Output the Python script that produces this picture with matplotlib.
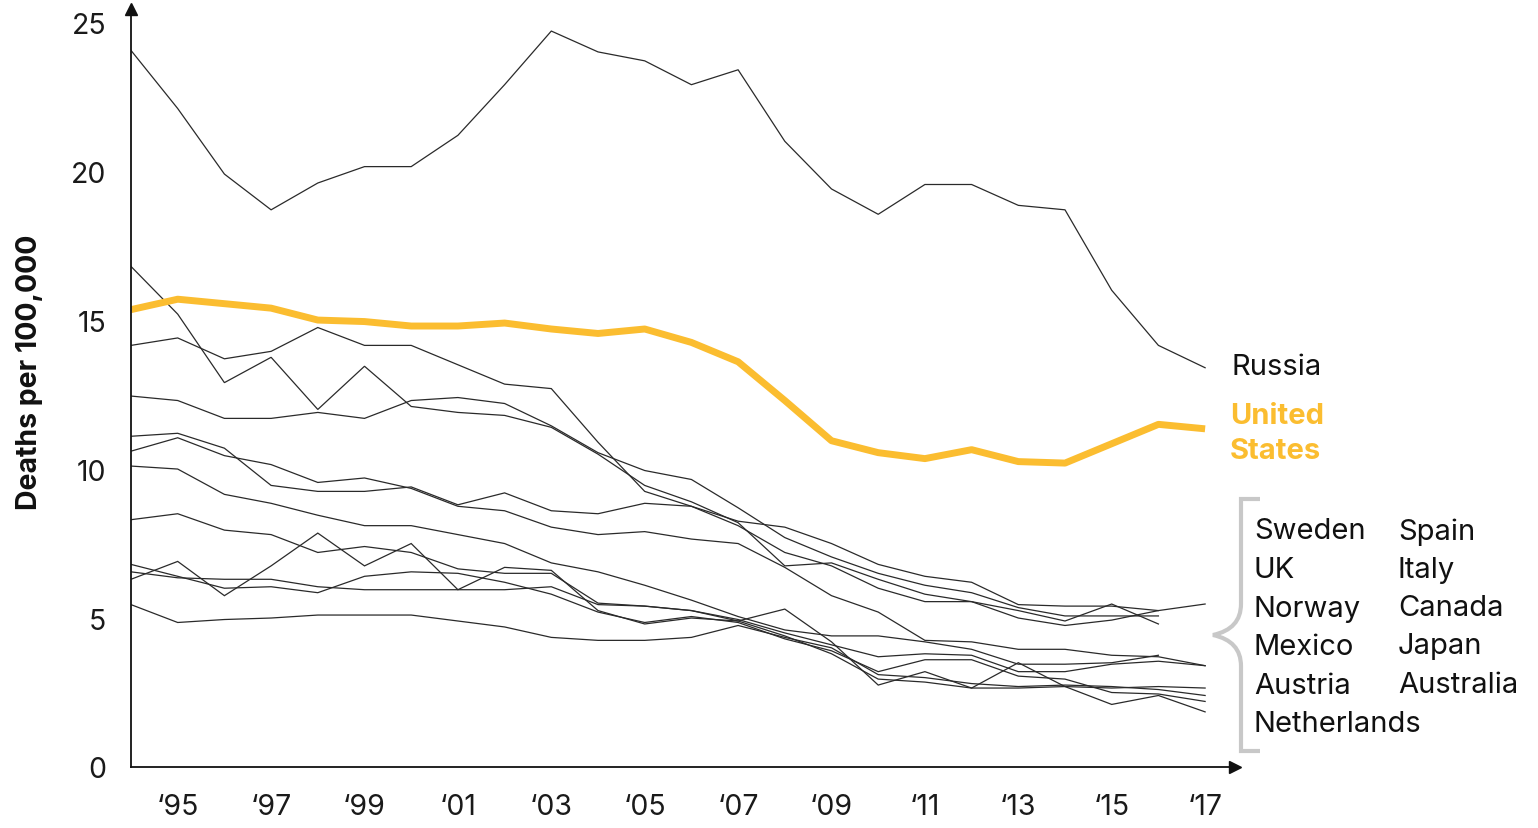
import numpy as np
import matplotlib
matplotlib.use("Agg")
import matplotlib.pyplot as plt
from matplotlib.path import Path
from matplotlib.patches import PathPatch

plt.rcParams['font.family'] = ['Inter', 'DejaVu Sans']

years = list(range(1994, 2018))
nan = np.nan

russia = [24.05, 22.1, 19.9, 18.7, 19.6, 20.15, 20.15, 21.2, 22.9, 24.7, 24.0, 23.7,
          22.9, 23.4, 21.0, 19.4, 18.55, 19.55, 19.55, 18.85, 18.7, 16.0, 14.15, 13.4]
united_states = [15.35, 15.7, 15.55, 15.4, 15.0, 14.95, 14.8, 14.8, 14.9, 14.7, 14.55, 14.7,
                 14.25, 13.6, 12.3, 10.95, 10.55, 10.35, 10.65, 10.25, 10.2, 10.85, 11.5, 11.35]

# the other eleven countries, drawn alike (which line is which is not marked)
other_a = [16.8, 15.2, 12.9, 13.75, 12.0, 13.45, 12.1, 11.9, 11.8, 11.4, 10.5, 9.45,
           8.9, 8.2, 6.75, 6.85, 6.3, 5.8, 5.55, 5.0, 4.75, 4.93, 5.25, 5.47]
other_b = [14.15, 14.4, 13.7, 13.95, 14.75, 14.15, 14.15, 13.5, 12.85, 12.7, 10.9, 9.25,
           8.75, 8.25, 8.05, 7.5, 6.8, 6.4, 6.2, 5.45, 5.4, 5.4, 5.25, nan]
other_c = [12.45, 12.3, 11.7, 11.7, 11.9, 11.7, 12.3, 12.4, 12.2, 11.45, 10.55, 9.95,
           9.65, 8.7, 7.7, 7.05, 6.5, 6.1, 5.85, 5.35, 5.07, 5.07, 5.07, nan]
other_d = [11.1, 11.2, 10.7, 9.45, 9.25, 9.25, 9.4, 8.8, 9.2, 8.6, 8.5, 8.85,
           8.75, 8.1, 7.2, 6.75, 6.0, 5.55, 5.55, 5.25, 4.9, 5.47, 4.8, nan]
other_e = [10.6, 11.05, 10.45, 10.15, 9.55, 9.7, 9.35, 8.75, 8.6, 8.05, 7.8, 7.9,
           7.65, 7.5, 6.7, 5.75, 5.2, 4.25, 4.2, 3.95, 3.95, 3.75, 3.7, 3.4]
other_f = [10.1, 10.0, 9.15, 8.85, 8.45, 8.1, 8.1, 7.8, 7.5, 6.85, 6.55, 6.1,
           5.6, 5.05, 4.6, 4.4, 4.4, 4.2, 3.95, 3.45, 3.45, 3.5, 3.75, nan]
other_g = [8.3, 8.5, 7.95, 7.8, 7.2, 7.4, 7.2, 6.65, 6.5, 6.5, 5.5, 5.4,
           5.25, 4.95, 4.5, 4.1, 3.7, 3.8, 3.75, 3.2, 3.2, 3.45, 3.55, 3.4]
other_h = [6.8, 6.4, 6.0, 6.05, 5.85, 6.4, 6.55, 6.5, 6.2, 5.8, 5.2, 4.85,
           5.05, 4.85, 4.3, 3.9, 3.2, 3.6, 3.6, 3.05, 2.95, 2.5, 2.45, 2.2]
other_i = [6.55, 6.35, 6.3, 6.3, 6.05, 5.95, 5.95, 5.95, 5.95, 6.05, 5.45, 5.4,
           5.25, 4.9, 4.4, 3.8, 2.95, 2.85, 2.65, 2.65, 2.7, 2.65, 2.7, 2.65]
other_j = [6.3, 6.9, 5.75, 6.75, 7.85, 6.75, 7.5, 5.95, 6.7, 6.6, 5.25, 4.8,
           5.0, 4.9, 5.3, 4.2, 2.75, 3.2, 2.65, 3.5, 2.7, 2.1, 2.4, 1.85]
other_k = [5.45, 4.85, 4.95, 5.0, 5.1, 5.1, 5.1, 4.9, 4.7, 4.35, 4.25, 4.25,
           4.35, 4.75, 4.35, 4.0, 3.1, 3.0, 2.8, 2.7, 2.75, 2.7, 2.6, 2.4]

others = [other_a, other_b, other_c, other_d, other_e, other_f,
          other_g, other_h, other_i, other_j, other_k]

tick_years = list(range(1995, 2018, 2))
tick_labels = ["\u2018" + str(y)[2:] for y in tick_years]
y_ticks = [0, 5, 10, 15, 20, 25]

group_left = ["Sweden", "UK", "Norway", "Mexico", "Austria", "Netherlands"]
group_right = ["Spain", "Italy", "Canada", "Japan", "Australia"]

W, H = 1538, 829
fig = plt.figure(figsize=(W / 100, H / 100), dpi=100)


def fx(px):
    return px / W


def fy(py):
    return 1 - py / H


ax = fig.add_axes([fx(131), fy(768), (1235 - 131) / W, (768 - 10) / H])
ax.set_xlim(1994, 2017.64)
ax.set_ylim(0, 25.44)

for s in others:
    ax.plot(years, s, color="#2a2a2a", lw=0.9, solid_joinstyle="miter")
ax.plot(years, russia, color="#2a2a2a", lw=0.9)
ax.plot(years, united_states, color="#FBBD30", lw=5, solid_capstyle="butt")

for side in ["top", "right"]:
    ax.spines[side].set_visible(False)
for side in ["left", "bottom"]:
    ax.spines[side].set_linewidth(1.3)
    ax.spines[side].set_color("#111111")
ax.plot(1, 0, ">", color="#111111", ms=8, transform=ax.transAxes, clip_on=False)
ax.plot(0, 1, "^", color="#111111", ms=8, transform=ax.transAxes, clip_on=False)

ax.set_xticks(tick_years)
ax.set_xticklabels(tick_labels)
ax.set_yticks(y_ticks)
ax.tick_params(length=0, labelsize=20.5, colors="#1a1a1a")
ax.tick_params(axis="x", pad=19)
ax.tick_params(axis="y", pad=18)

fig.text(fx(30), fy(372), "Deaths per 100,000", rotation=90, fontsize=20.5,
         fontweight="bold", color="#111111", ha="center", va="center")

fs = 21
fig.text(fx(1231), fy(368), "Russia", fontsize=fs, color="#111111", va="center")
fig.text(fx(1230), fy(434), "United\nStates", fontsize=fs, color="#FBBD30",
         fontweight="bold", va="center", linespacing=1.4)

for i, name in enumerate(group_left):
    fig.text(fx(1254), fy(532 + i * 38.6), name, fontsize=fs, color="#111111", va="center")
for i, name in enumerate(group_right):
    fig.text(fx(1398), fy(532 + i * 38.3), name, fontsize=fs, color="#111111", va="center")

# curly bracket round the country list
verts = [(fx(1260), fy(500)), (fx(1241), fy(500)), (fx(1241), fy(605)),
         (fx(1241), fy(630)), (fx(1213), fy(636)),
         (fx(1241), fy(642)), (fx(1241), fy(667)),
         (fx(1241), fy(752)), (fx(1260), fy(752))]
codes = [Path.MOVETO, Path.LINETO, Path.LINETO, Path.CURVE3, Path.CURVE3,
         Path.CURVE3, Path.CURVE3, Path.LINETO, Path.LINETO]
brace = PathPatch(Path(verts, codes), transform=fig.transFigure, fill=False,
                  edgecolor="#c8c8c8", lw=3)
fig.patches.append(brace)

fig.savefig("out.png", dpi=100)
